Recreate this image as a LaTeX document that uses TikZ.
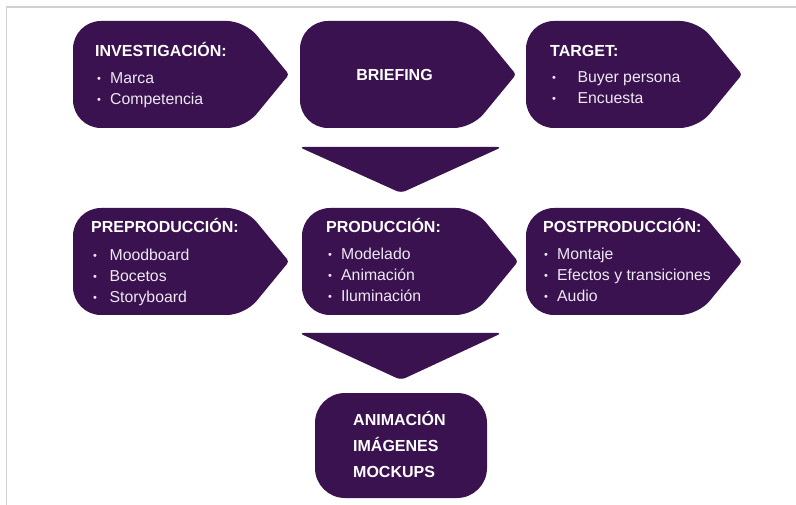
\documentclass[tikz,border=0pt]{standalone}
\usepackage{fontspec}
\setmainfont{Liberation Sans}
\usetikzlibrary{positioning}

\definecolor{plum}{HTML}{3B1250}
\definecolor{lila}{HTML}{EEE8F2}
\definecolor{framegray}{HTML}{D0D0D0}

\tikzset{
  headtxt/.style={text=white, font=\bfseries\fontsize{16}{18}\selectfont, inner sep=0pt, anchor=base west},
  listtxt/.style={text=lila, font=\fontsize{15.8}{21}\selectfont, inner sep=0pt, anchor=base west},
  outtxt/.style={text=white, font=\bfseries\fontsize{16}{26}\selectfont, inner sep=0pt, anchor=base west},
}

% lines stacked under the first baseline
\newcommand\lines[1]{\begin{tabular}[t]{@{}l@{}}#1\end{tabular}}
% bullet with a fixed gap before the item text
\newcommand\bul[1][13]{\makebox[#1pt][l]{\fontsize{11}{11}\selectfont\raisebox{1pt}{•}}}

% arrow-like tag, top left corner at (#1,#2)
\newcommand\tagbox[2]{%
  \fill[plum, rounded corners=28] (#1,#2+53) -- (#1,#2) [rounded corners=18] -- (#1+172,#2)
    [rounded corners=3] -- (#1+216,#2+53.5) [rounded corners=18] -- (#1+172,#2+107)
    [rounded corners=28] -- (#1,#2+107) -- cycle;}

\begin{document}
\begin{tikzpicture}[x=1pt,y=-1pt]
  \useasboundingbox (0,0) rectangle (796,505);

  % outer frame
  \draw[framegray, line width=1.2pt] (6.5,505) |- (796,7);

  % first row
  \tagbox{73}{21}
  \tagbox{300}{21}
  \tagbox{526}{21}

  \node[headtxt] (invTitle) at (95,57) {INVESTIGACIÓN:};
  \node[listtxt] (invList) at (97,84) {\lines{\bul Marca\\\bul Competencia}};

  \node[text=white, font=\bfseries\fontsize{16}{18}\selectfont, inner sep=0pt, anchor=base] (brief) at (394.5,81) {BRIEFING};

  \node[headtxt] (tgtTitle) at (550,57) {TARGET:};
  \node[listtxt] (tgtList) at (552,83) {\lines{\bul[21] Buyer persona\\\bul[21] Encuesta}};

  % down arrow
  \fill[plum, rounded corners=5] (299,147) -- (502,147) -- (401,193) -- cycle;

  % second row
  \tagbox{73}{208}
  \tagbox{302}{208}
  \tagbox{526}{208}

  \node[headtxt] (preTitle) at (91,233) {PREPRODUCCIÓN:};
  \node[listtxt] (preList) at (93,261) {\lines{\bul[12] Moodboard\\\bul[12] Bocetos\\\bul[12] Storyboard}};

  \node[headtxt] (prodTitle) at (326,233) {PRODUCCIÓN:};
  \node[listtxt] (prodList) at (328,260) {\lines{\bul Modelado\\\bul Animación\\\bul Iluminación}};

  \node[headtxt] (postTitle) at (543,233) {POSTPRODUCCIÓN:};
  \node[listtxt] (postList) at (544,260) {\lines{\bul Montaje\\\bul Efectos y transiciones\\\bul Audio}};

  % down arrow
  \fill[plum, rounded corners=5] (299,333) -- (502,333) -- (401,380) -- cycle;

  % result
  \fill[plum, rounded corners=30] (315,393) rectangle (487,498);
  \node[outtxt] (outList) at (353,425) {\lines{ANIMACIÓN\\IMÁGENES\\MOCKUPS}};
\end{tikzpicture}
\end{document}
